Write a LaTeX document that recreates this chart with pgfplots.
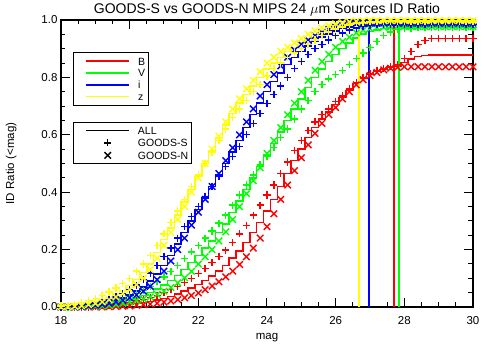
\documentclass[border=0pt]{standalone}
\usepackage{fontspec}
\setmainfont{Liberation Sans}
\usepackage{pgfplots}
\usepackage{pgfplotstable}
\pgfplotsset{compat=1.18}

\definecolor{idlred}{RGB}{255,0,0}
\definecolor{idlgreen}{RGB}{0,255,0}
\definecolor{idlblue}{RGB}{0,0,255}
\definecolor{idlyellow}{RGB}{255,255,0}

% m, then ALL / GOODS-S / GOODS-N for B, V, i, z
\pgfplotstableread{
m    Ba    Bs    Bn    Va    Vs    Vn    Ia    Is    In    Za    Zs    Zn
18.0 0     0     0     0     0     0     0     0     0     0     0.004 0
18.2 0     0     0     0     0     0     0     0.002 0     0.002 0.006 0
18.4 0     0     0     0.001 0.002 0     0.002 0.004 0     0.004 0.010 0.002
18.6 0     0     0     0.002 0.004 0.001 0.004 0.007 0.002 0.008 0.016 0.004
18.8 0     0     0     0.003 0.006 0.002 0.006 0.010 0.004 0.012 0.022 0.008
19.0 0     0.002 0     0.005 0.009 0.003 0.009 0.014 0.006 0.018 0.030 0.012
19.2 0.002 0.004 0     0.007 0.012 0.004 0.013 0.020 0.009 0.025 0.040 0.018
19.4 0.003 0.006 0.001 0.010 0.016 0.006 0.018 0.027 0.013 0.033 0.052 0.025
19.6 0.005 0.009 0.002 0.014 0.021 0.009 0.024 0.035 0.018 0.045 0.066 0.035
19.8 0.007 0.012 0.003 0.019 0.028 0.013 0.032 0.046 0.024 0.058 0.082 0.046
20.0 0.009 0.016 0.004 0.025 0.036 0.017 0.042 0.060 0.032 0.075 0.100 0.060
20.2 0.012 0.021 0.006 0.032 0.046 0.022 0.055 0.076 0.042 0.095 0.125 0.078
20.4 0.015 0.026 0.008 0.040 0.058 0.028 0.070 0.095 0.055 0.120 0.150 0.100
20.6 0.019 0.033 0.010 0.050 0.072 0.035 0.090 0.118 0.072 0.150 0.180 0.130
20.8 0.024 0.041 0.013 0.062 0.088 0.044 0.115 0.145 0.095 0.190 0.215 0.170
21.0 0.030 0.050 0.017 0.076 0.105 0.055 0.145 0.175 0.125 0.235 0.255 0.215
21.2 0.037 0.060 0.021 0.092 0.124 0.068 0.180 0.205 0.160 0.275 0.295 0.260
21.4 0.045 0.072 0.026 0.110 0.145 0.084 0.220 0.240 0.200 0.320 0.335 0.305
21.6 0.055 0.085 0.032 0.130 0.168 0.102 0.260 0.280 0.240 0.365 0.375 0.350
21.8 0.066 0.100 0.040 0.155 0.192 0.124 0.300 0.315 0.285 0.410 0.420 0.400
22.0 0.078 0.116 0.049 0.180 0.215 0.150 0.340 0.350 0.330 0.455 0.460 0.450
22.2 0.092 0.134 0.060 0.205 0.240 0.175 0.380 0.385 0.375 0.500 0.500 0.500
22.4 0.108 0.154 0.073 0.230 0.265 0.200 0.420 0.420 0.420 0.545 0.540 0.550
22.6 0.125 0.175 0.088 0.260 0.292 0.230 0.460 0.455 0.465 0.590 0.580 0.595
22.8 0.145 0.198 0.105 0.290 0.320 0.262 0.500 0.490 0.510 0.635 0.620 0.645
23.0 0.170 0.225 0.125 0.330 0.355 0.305 0.540 0.525 0.555 0.675 0.660 0.690
23.2 0.195 0.255 0.148 0.370 0.390 0.350 0.580 0.560 0.600 0.710 0.690 0.725
23.4 0.225 0.285 0.175 0.410 0.425 0.395 0.625 0.600 0.645 0.740 0.720 0.760
23.6 0.260 0.320 0.205 0.450 0.460 0.440 0.670 0.640 0.690 0.770 0.750 0.790
23.8 0.295 0.355 0.240 0.490 0.495 0.485 0.710 0.675 0.735 0.800 0.775 0.820
24.0 0.335 0.390 0.280 0.530 0.525 0.535 0.750 0.710 0.775 0.830 0.805 0.850
24.2 0.375 0.425 0.325 0.570 0.555 0.580 0.785 0.740 0.810 0.850 0.830 0.870
24.4 0.420 0.465 0.375 0.610 0.590 0.625 0.815 0.770 0.840 0.870 0.850 0.890
24.6 0.465 0.505 0.425 0.650 0.620 0.670 0.845 0.800 0.870 0.890 0.870 0.905
24.8 0.510 0.545 0.475 0.690 0.655 0.710 0.870 0.830 0.895 0.905 0.885 0.920
25.0 0.550 0.580 0.520 0.725 0.690 0.750 0.890 0.855 0.915 0.920 0.900 0.935
25.2 0.590 0.615 0.565 0.765 0.720 0.790 0.910 0.880 0.930 0.935 0.915 0.950
25.4 0.625 0.645 0.605 0.800 0.750 0.825 0.925 0.900 0.945 0.950 0.930 0.962
25.6 0.655 0.670 0.640 0.830 0.775 0.855 0.940 0.915 0.957 0.962 0.945 0.972
25.8 0.680 0.690 0.670 0.855 0.795 0.880 0.952 0.930 0.967 0.972 0.958 0.980
26.0 0.705 0.715 0.695 0.880 0.810 0.905 0.962 0.945 0.975 0.980 0.968 0.987
26.2 0.730 0.735 0.725 0.900 0.825 0.925 0.970 0.955 0.980 0.985 0.976 0.991
26.4 0.755 0.760 0.750 0.920 0.845 0.940 0.976 0.965 0.984 0.990 0.983 0.994
26.6 0.778 0.782 0.774 0.938 0.865 0.955 0.981 0.972 0.987 0.993 0.988 0.996
26.8 0.796 0.800 0.792 0.952 0.885 0.965 0.984 0.978 0.988 0.995 0.992 0.997
27.0 0.810 0.813 0.806 0.960 0.905 0.970 0.986 0.982 0.989 0.996 0.994 0.998
27.2 0.821 0.824 0.817 0.966 0.925 0.973 0.987 0.985 0.989 0.997 0.995 0.998
27.4 0.830 0.832 0.826 0.970 0.945 0.975 0.987 0.986 0.989 0.997 0.996 0.998
27.6 0.836 0.838 0.832 0.973 0.958 0.976 0.987 0.986 0.989 0.997 0.996 0.998
27.8 0.840 0.845 0.835 0.974 0.966 0.977 0.987 0.986 0.989 0.997 0.996 0.998
28.0 0.852 0.865 0.837 0.975 0.970 0.977 0.987 0.986 0.989 0.997 0.996 0.998
28.2 0.864 0.890 0.837 0.975 0.972 0.977 0.987 0.986 0.989 0.997 0.996 0.998
28.4 0.872 0.915 0.837 0.975 0.973 0.977 0.987 0.986 0.989 0.997 0.996 0.998
28.6 0.876 0.928 0.837 0.975 0.973 0.977 0.987 0.986 0.989 0.997 0.996 0.998
28.8 0.878 0.935 0.837 0.975 0.973 0.977 0.987 0.986 0.989 0.997 0.996 0.998
29.0 0.878 0.936 0.837 0.975 0.973 0.977 0.987 0.986 0.989 0.997 0.996 0.998
29.2 0.878 0.936 0.837 0.975 0.973 0.977 0.987 0.986 0.989 0.997 0.996 0.998
29.4 0.878 0.936 0.837 0.975 0.973 0.977 0.987 0.986 0.989 0.997 0.996 0.998
29.6 0.878 0.936 0.837 0.975 0.973 0.977 0.987 0.986 0.989 0.997 0.996 0.998
29.8 0.878 0.936 0.837 0.975 0.973 0.977 0.987 0.986 0.989 0.997 0.996 0.998
30.0 0.878 0.936 0.837 0.975 0.973 0.977 0.987 0.986 0.989 0.997 0.996 0.998
}\idtab

\pgfplotsset{
  allline/.style={const plot mark mid, no marks, line width=1.5pt},
  splus/.style={only marks, mark=+, mark size=3.6pt, mark options={line width=1.4pt}},
  ncross/.style={only marks, mark=x, mark size=4.6pt, mark options={line width=1.4pt}},
  idlbox/.style={
    scale only axis, width=412pt, height=287pt,
    xmin=18, xmax=30, ymin=0, ymax=1,
    legend image code/.code={\path (0pt,0pt); \draw[mark repeat=2,mark phase=2,##1]
      plot coordinates {(9pt,0pt) (30.5pt,0pt) (52pt,0pt)};},
  },
}

\begin{document}
\begin{tikzpicture}
\path[use as bounding box] (-61pt,-43pt) rectangle (430pt,307pt);
\begin{axis}[
  idlbox,
  xtick={18,20,...,30}, minor x tick num=3,
  ytick={0,0.2,...,1}, minor y tick num=3,
  major tick length=9pt, minor tick length=4.5pt,
  every tick/.style={black, line width=1pt},
  axis line style={line width=1.2pt},
  /pgf/number format/assume math mode=true,
  tick label style={font=\fontsize{11.5}{13}\selectfont},
  xticklabel style={yshift=-6pt},
  yticklabel style={/pgf/number format/fixed, /pgf/number format/fixed zerofill,
    /pgf/number format/precision=1},
  every axis title shift=0pt,
  title={GOODS-S vs GOODS-N MIPS 24 $\mu$m Sources ID Ratio},
  title style={font=\fontsize{14}{16}\selectfont, at={(axis description cs:0.5,1.035)}, anchor=center},
  xlabel={mag},
  xlabel style={font=\fontsize{11.5}{13}\selectfont, at={(axis description cs:0.5,-0.108)}, anchor=center},
  ylabel={ID Ratio (<mag)},
  ylabel style={font=\fontsize{11.5}{13}\selectfont, at={(axis description cs:-0.121,0.5)}, anchor=center},
  legend style={at={(0.029,0.889)}, anchor=north west, draw=black, line width=1pt,
    font=\fontsize{10.5}{12}\selectfont, inner xsep=3pt, inner ysep=3.7pt,
    row sep=1.2pt, column sep=8pt,
    nodes={inner xsep=0pt, inner ysep=1.5pt, text height=7.5pt, text depth=0pt},
    cells={anchor=west}},
]
\addlegendimage{idlred, line width=1.7pt}\addlegendentry{B}
\addlegendimage{idlgreen, line width=1.7pt}\addlegendentry{V}
\addlegendimage{idlblue, line width=1.7pt}\addlegendentry{i}
\addlegendimage{idlyellow, line width=1.7pt}\addlegendentry{z}

\addplot[idlred, allline, forget plot] table[x=m, y=Ba] {\idtab};
\addplot[idlred, splus, forget plot] table[x=m, y=Bs] {\idtab};
\addplot[idlred, ncross, forget plot] table[x=m, y=Bn] {\idtab};

\addplot[idlgreen, allline, forget plot] table[x=m, y=Va] {\idtab};
\addplot[idlgreen, splus, forget plot] table[x=m, y=Vs] {\idtab};
\addplot[idlgreen, ncross, forget plot] table[x=m, y=Vn] {\idtab};

\addplot[idlblue, allline, forget plot] table[x=m, y=Ia] {\idtab};
\addplot[idlblue, splus, forget plot] table[x=m, y=Is] {\idtab};
\addplot[idlblue, ncross, forget plot] table[x=m, y=In] {\idtab};

\addplot[idlyellow, allline, forget plot] table[x=m, y=Za] {\idtab};
\addplot[idlyellow, splus, forget plot] table[x=m, y=Zs] {\idtab};
\addplot[idlyellow, ncross, forget plot] table[x=m, y=Zn] {\idtab};

% limiting magnitudes
\addplot[idlyellow, line width=1.7pt, forget plot] coordinates {(26.68,0) (26.68,1)};
\addplot[idlblue, line width=1.7pt, forget plot] coordinates {(26.98,0) (26.98,1)};
\addplot[idlred, line width=1.7pt, forget plot] coordinates {(27.69,0) (27.69,1)};
\addplot[idlgreen, line width=1.7pt, forget plot] coordinates {(27.84,0) (27.84,1)};
\end{axis}

% second legend box
\begin{axis}[
  idlbox, hide axis,
  legend style={at={(0.029,0.645)}, anchor=north west, draw=black, line width=1pt,
    font=\fontsize{10.5}{12}\selectfont, inner xsep=3pt, inner ysep=2.75pt,
    row sep=2pt, column sep=8pt,
    nodes={inner xsep=0pt, inner ysep=1.5pt, text height=7.5pt, text depth=0pt},
    cells={anchor=west}},
]
\addlegendimage{black, line width=1.5pt}\addlegendentry{ALL}
\addlegendimage{black, only marks, mark=+, mark size=3.6pt, mark options={line width=1.4pt}}\addlegendentry{GOODS-S}
\addlegendimage{black, only marks, mark=x, mark size=4.6pt, mark options={line width=1.4pt}}\addlegendentry{GOODS-N}
\end{axis}
\end{tikzpicture}
\end{document}
